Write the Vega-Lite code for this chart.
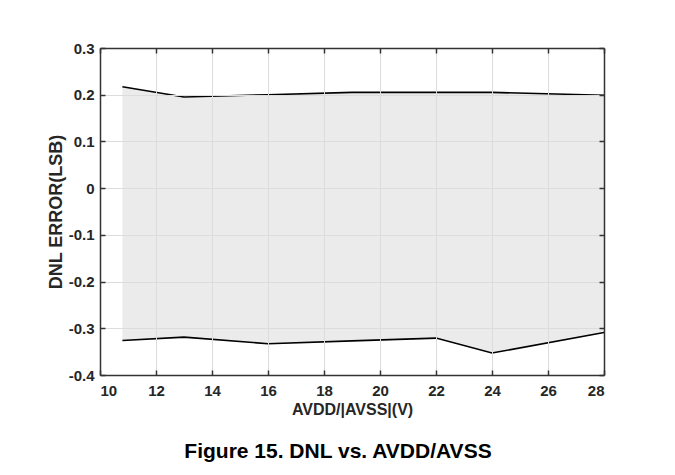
{
  "$schema": "https://vega.github.io/schema/vega-lite/v6.json",
  "width": 504,
  "height": 327,
  "autosize": {"type": "none"},
  "padding": {"left": 100, "top": 48, "right": 71, "bottom": 100},
  "background": "white",
  "title": {
    "text": "Figure 15. DNL vs. AVDD/AVSS",
    "orient": "bottom",
    "font": "Liberation Sans",
    "fontSize": 21,
    "fontWeight": "bold",
    "color": "black",
    "dx": -14,
    "offset": 24
  },
  "config": {
    "view": {"stroke": null},
    "axis": {
      "labelFont": "Liberation Sans",
      "labelFontSize": 15,
      "labelFontWeight": "bold",
      "labelColor": "#262626",
      "titleFont": "Liberation Sans",
      "titleFontWeight": "bold",
      "titleColor": "#262626",
      "domainColor": "#333333",
      "domainWidth": 1.5,
      "tickColor": "#333333",
      "tickWidth": 1.5,
      "tickSize": -5,
      "gridColor": "#dcdcdc",
      "gridWidth": 1
    }
  },
  "data": {
    "values": [
      {"v": 10.8, "upper": 0.217, "lower": -0.326},
      {"v": 13, "upper": 0.195, "lower": -0.319},
      {"v": 16, "upper": 0.2, "lower": -0.333},
      {"v": 19, "upper": 0.205, "lower": -0.327},
      {"v": 22, "upper": 0.205, "lower": -0.321},
      {"v": 24, "upper": 0.205, "lower": -0.353},
      {"v": 28, "upper": 0.199, "lower": -0.309}
    ]
  },
  "layer": [
    {
      "mark": {"type": "area", "color": "#ebebeb", "opacity": 1},
      "encoding": {
        "x": {
          "field": "v", "type": "quantitative",
          "scale": {"domain": [10, 28], "nice": false, "zero": false},
          "axis": {
            "orient": "bottom", "values": [10, 12, 14, 16, 18, 20, 22, 24, 26, 28],
            "title": "AVDD/|AVSS|(V)", "titleFontSize": 16, "grid": true, "zindex": 1,
            "labelPadding": 13, "titlePadding": 3
          }
        },
        "y": {
          "field": "lower", "type": "quantitative",
          "scale": {"domain": [-0.4, 0.3], "nice": false, "zero": false},
          "axis": {
            "orient": "left", "values": [-0.4, -0.3, -0.2, -0.1, 0, 0.1, 0.2, 0.3],
            "title": "DNL ERROR(LSB)", "titleFontSize": 18, "grid": true, "zindex": 1,
            "labelExpr": "replace(format(datum.value, '.1~f'), '\u2212', '-')",
            "labelPadding": 11, "titlePadding": 3
          }
        },
        "y2": {"field": "upper"}
      }
    },
    {
      "mark": {"type": "line", "color": "black", "strokeWidth": 1.6},
      "encoding": {
        "x": {
          "field": "v", "type": "quantitative",
          "axis": {"orient": "top", "labels": false, "title": null, "grid": false, "values": [10, 12, 14, 16, 18, 20, 22, 24, 26, 28], "zindex": 1}
        },
        "y": {
          "field": "upper", "type": "quantitative",
          "axis": {"orient": "right", "labels": false, "title": null, "grid": false, "values": [-0.4, -0.3, -0.2, -0.1, 0, 0.1, 0.2, 0.3], "zindex": 1}
        }
      }
    },
    {
      "mark": {"type": "line", "color": "black", "strokeWidth": 1.6},
      "encoding": {
        "x": {"field": "v", "type": "quantitative", "axis": null},
        "y": {"field": "lower", "type": "quantitative", "axis": null}
      }
    }
  ],
  "resolve": {"axis": {"x": "independent", "y": "independent"}}
}
